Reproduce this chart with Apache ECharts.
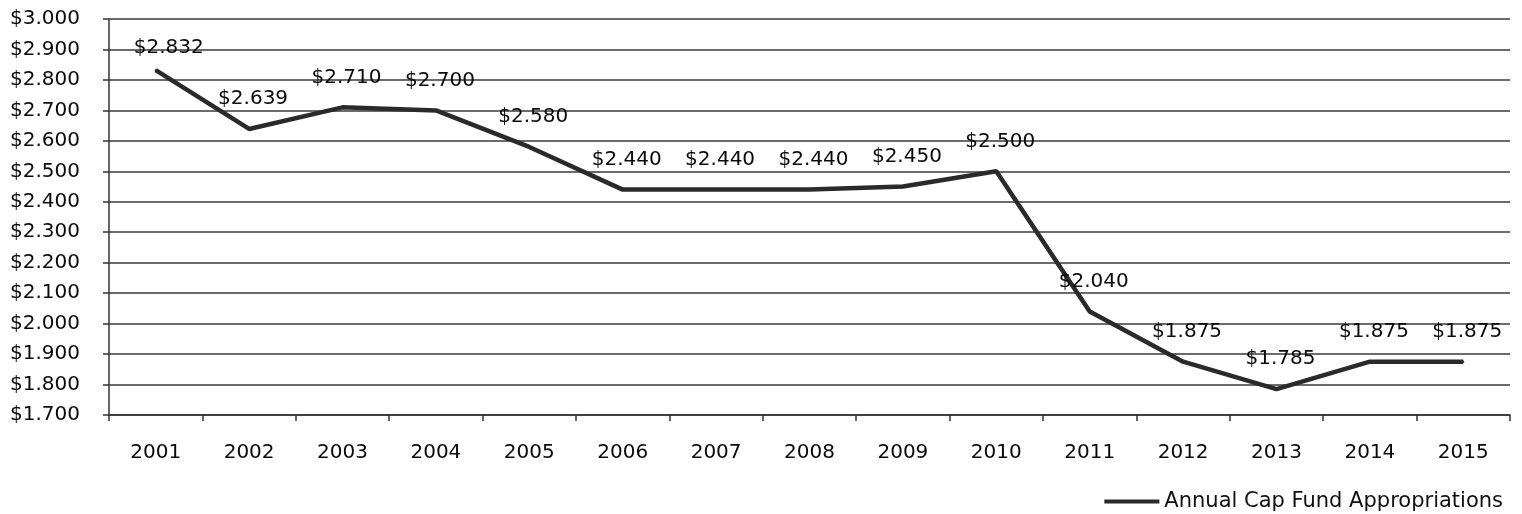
<!DOCTYPE html>
<html>
<head>
<meta charset="utf-8">
<script src="https://cdn.jsdelivr.net/npm/echarts@6/dist/echarts.min.js"></script>
<style>
html,body{margin:0;padding:0;background:#fff;}
#c{width:1522px;height:514px;}
</style>
</head>
<body>
<div id="c"></div>
<script>
var years = ['2001','2002','2003','2004','2005','2006','2007','2008','2009','2010','2011','2012','2013','2014','2015'];
var appropriations = [2.832, 2.639, 2.710, 2.700, 2.580, 2.440, 2.440, 2.440, 2.450, 2.500, 2.040, 1.875, 1.785, 1.875, 1.875];
var seriesName = 'Annual Cap Fund Appropriations';
var yMin = 1.7, yMax = 3.0, yStep = 0.1;

var chart = echarts.init(document.getElementById('c'));
var font = '"DejaVu Sans", sans-serif';
var dataItems = appropriations.map(function (v, i) {
  var item = { value: v };
  if (i === 0) item.label = { offset: [13, 8] };
  return item;
});
chart.setOption({
  backgroundColor: '#ffffff',
  animation: false,
  grid: { left: 109, right: 12, top: 19, bottom: 99 },
  legend: {
    right: 14, top: 486,
    icon: 'rect', itemWidth: 55, itemHeight: 4,
    textStyle: { fontFamily: font, fontSize: 21, color: '#111' },
    data: [seriesName]
  },
  xAxis: {
    type: 'category',
    data: years,
    boundaryGap: true,
    axisLine: { lineStyle: { color: '#333', width: 1.5 } },
    axisTick: { show: true, length: 6, inside: false, lineStyle: { color: '#333', width: 1.5 } },
    axisLabel: { margin: 28, fontFamily: font, fontSize: 20, color: '#0a0a0a' }
  },
  yAxis: {
    type: 'value',
    min: yMin, max: yMax, interval: yStep,
    axisLine: { show: true, lineStyle: { color: '#333', width: 1.5 } },
    axisTick: { show: true, length: 6, lineStyle: { color: '#333', width: 1.5 } },
    splitLine: { lineStyle: { color: '#3a3a3a', width: 1.5 } },
    axisLabel: {
      margin: 29, fontFamily: font, fontSize: 20, color: '#0a0a0a',
      formatter: function (v) { return '$' + v.toFixed(3); }
    }
  },
  series: [{
    name: seriesName,
    type: 'line',
    data: dataItems,
    symbol: 'circle', symbolSize: 2,
    itemStyle: { color: '#2a2a2a' },
    lineStyle: { color: '#2a2a2a', width: 4.5 },
    label: {
      show: true, position: 'top', distance: 19, offset: [4, 0],
      fontFamily: font, fontSize: 20, color: '#0a0a0a',
      formatter: function (p) { return '$' + p.value.toFixed(3); }
    }
  }]
});
</script>
</body>
</html>
